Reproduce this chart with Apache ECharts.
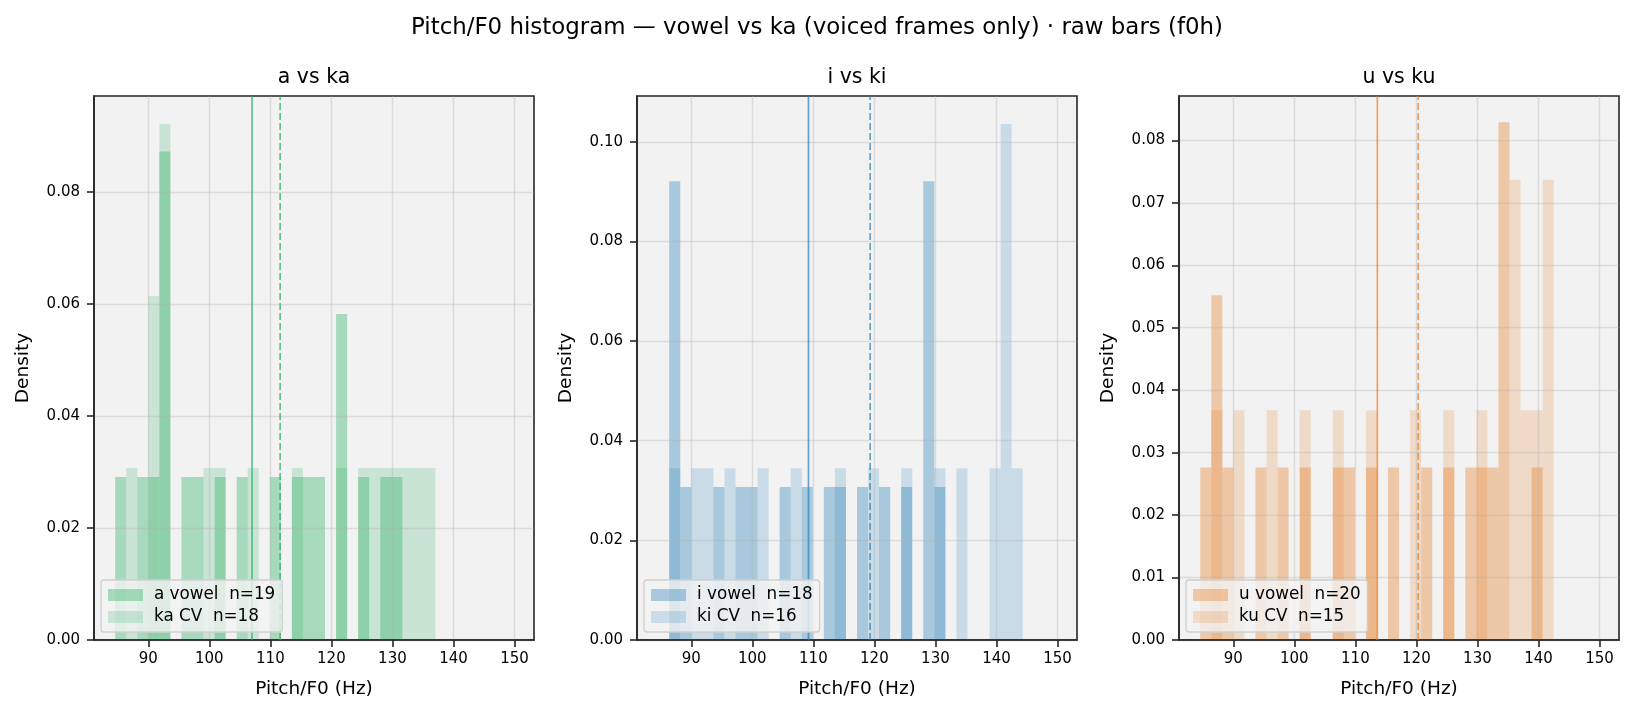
<!DOCTYPE html>
<html>
<head>
<meta charset="utf-8">
<script src="https://cdn.jsdelivr.net/npm/echarts@6/dist/echarts.min.js"></script>
<style>
html,body{margin:0;padding:0;background:#fff;}
#c{width:1634px;height:715px;}
</style>
</head>
<body>
<div id="c"></div>
<script>
// ---------- data ----------
const suptitle = 'Pitch/F0 histogram — vowel vs ka (voiced frames only) · raw bars (f0h)';
const panelTitles = ['a vs ka', 'i vs ki', 'u vs ku'];
const legendNames = [['a vowel  n=19', 'ka CV  n=18'], ['i vowel  n=18', 'ki CV  n=16'], ['u vowel  n=20', 'ku CV  n=15']];
const binWidth = 1.81;
const binStarts = [84.57, 86.38, 84.58];

// density per bin (bin k spans binStart + k*binWidth .. binStart + (k+1)*binWidth)
const aVowel = [0.0291,0,0.0291,0.0291,0.0872,0,0.0291,0.0291,0,0.0291,0,0.0291,0,0,0.0291,0,0.0291,0.0291,0.0291,0,0.0582,0,0.0291,0,0.0291,0.0291,0,0,0];
const kaCV   = [0,0.0307,0,0.0614,0.0921,0,0,0,0.0307,0.0307,0,0,0.0307,0,0,0,0.0307,0,0,0,0.0307,0,0.0307,0.0307,0.0307,0.0307,0.0307,0.0307,0.0307];
const iVowel = [0.0921,0.0307,0,0,0.0307,0,0.0307,0.0307,0,0,0.0307,0,0.0307,0,0.0307,0.0307,0,0.0307,0,0.0307,0,0.0307,0,0.0921,0.0307,0,0,0,0,0,0,0];
const kiCV   = [0.0345,0,0.0345,0.0345,0,0.0345,0,0,0.0345,0,0,0.0345,0,0,0,0.0345,0,0,0.0345,0,0,0.0345,0,0,0.0345,0,0.0345,0,0,0.0345,0.1036,0.0345];
const uVowel = [0.0276,0.0552,0.0276,0,0,0.0276,0,0.0276,0,0.0276,0,0,0.0276,0.0276,0,0.0276,0,0.0276,0,0,0.0276,0,0.0276,0,0.0276,0.0276,0.0276,0.0829,0,0,0.0276,0];
const kuCV   = [0,0.0368,0,0.0368,0,0,0.0368,0,0,0.0368,0,0,0.0368,0,0,0.0368,0,0,0,0.0368,0,0,0.0368,0,0,0.0368,0,0,0.0737,0.0368,0.0368,0.0737];

// mean lines (vowel solid, CV dashed)
const vowelMeans = [107.0, 109.2, 113.6];
const cvMeans = [111.6, 119.3, 120.3];

// axes
const xRange = [81.1, 153.2];
const xTicks = [90, 100, 110, 120, 130, 140, 150];
const yMax = [0.0971, 0.1092, 0.0871];
const yTicks = [
  [0, 0.02, 0.04, 0.06, 0.08],
  [0, 0.02, 0.04, 0.06, 0.08, 0.10],
  [0, 0.01, 0.02, 0.03, 0.04, 0.05, 0.06, 0.07, 0.08]
];

// ---------- styling ----------
const FONT = 'DejaVu Sans';
const baseRGB = ['39,174,96', '41,128,185', '230,126,34'];
const vowelAlpha = 0.37, cvAlpha = 0.2, lineAlpha = 0.7;
const gridLefts = [94, 637, 1179];
const gridTop = 96, gridW = 440, gridH = 544;

const vowelData = [aVowel, iVowel, uVowel];
const cvData = [kaCV, kiCV, kuCV];

function histSeries(name, idx, dens, color) {
  const start = binStarts[idx];
  const data = dens.map((d, k) => [start + k * binWidth, start + (k + 1) * binWidth, d]).filter(r => r[2] > 0);
  return {
    name: name, type: 'custom', xAxisIndex: idx, yAxisIndex: idx, z: 1,
    itemStyle: { color: color },
    encode: { x: [0, 1], y: 2 },
    data: data, silent: true, animation: false,
    renderItem: function (params, api) {
      const a = api.coord([api.value(0), 0]);
      const b = api.coord([api.value(1), api.value(2)]);
      return { type: 'rect', shape: { x: a[0], y: b[1], width: b[0] - a[0], height: a[1] - b[1] }, style: { fill: color } };
    }
  };
}
function meanLine(idx, m, color, dashed) {
  return {
    type: 'line', xAxisIndex: idx, yAxisIndex: idx, z: 3, silent: true, animation: false,
    data: [[m, 0], [m, yMax[idx]]], symbol: 'none',
    lineStyle: { color: color, width: 1.7, type: dashed ? [7, 3] : 'solid' }
  };
}

const grids = [], xAxes = [], yAxes = [], series = [], legends = [], titles = [];
titles.push({ text: suptitle, left: 'center', top: 17, padding: 0,
  textStyle: { fontFamily: FONT, fontSize: 22.9, fontWeight: 'normal', color: '#000' } });

for (let i = 0; i < 3; i++) {
  grids.push({ left: gridLefts[i], top: gridTop, width: gridW, height: gridH, show: true,
    backgroundColor: '#f2f2f2', borderColor: '#262626', borderWidth: 1.6 });
  xAxes.push({ type: 'value', gridIndex: i, min: xRange[0], max: xRange[1], z: 2,
    name: 'Pitch/F0 (Hz)', nameLocation: 'middle', nameGap: 40,
    nameTextStyle: { fontFamily: FONT, fontSize: 18.5, color: '#000' },
    axisLine: { show: true, lineStyle: { color: '#262626', width: 1.6 } },
    axisTick: { show: true, length: 7, customValues: xTicks, lineStyle: { color: '#262626', width: 1.6 } },
    axisLabel: { customValues: xTicks, margin: 12, fontFamily: FONT, fontSize: 15, color: '#000' },
    splitLine: { show: true, lineStyle: { color: 'rgba(176,176,176,0.34)', width: 1.4 } } });
  yAxes.push({ type: 'value', gridIndex: i, min: 0, max: yMax[i], z: 2,
    name: 'Density', nameLocation: 'middle', nameGap: 61,
    nameTextStyle: { fontFamily: FONT, fontSize: 18.5, color: '#000' },
    axisLine: { show: true, lineStyle: { color: '#262626', width: 1.6 } },
    axisTick: { show: true, length: 7, customValues: yTicks[i], lineStyle: { color: '#262626', width: 1.6 } },
    axisLabel: { customValues: yTicks[i], margin: 14, fontFamily: FONT, fontSize: 15, color: '#000',
      formatter: v => v.toFixed(2) },
    splitLine: { show: true, lineStyle: { color: 'rgba(176,176,176,0.34)', width: 1.4 } } });

  const vCol = 'rgba(' + baseRGB[i] + ',' + vowelAlpha + ')';
  const cCol = 'rgba(' + baseRGB[i] + ',' + cvAlpha + ')';
  const lCol = 'rgba(' + baseRGB[i] + ',' + lineAlpha + ')';
  series.push(histSeries(legendNames[i][0], i, vowelData[i], vCol));
  series.push(histSeries(legendNames[i][1], i, cvData[i], cCol));
  series.push(meanLine(i, vowelMeans[i], lCol, false));
  series.push(meanLine(i, cvMeans[i], lCol, true));

  titles.push({ text: panelTitles[i], left: gridLefts[i] + gridW / 2, textAlign: 'center', top: 67, padding: 0,
    textStyle: { fontFamily: FONT, fontSize: 20.5, fontWeight: 'normal', color: '#000' } });

  legends.push({ data: legendNames[i], orient: 'vertical', left: gridLefts[i] + 7, top: 580,
    padding: [6, 7, 6, 7], itemWidth: 35, itemHeight: 12, itemGap: 4, icon: 'rect',
    selectedMode: false, z: 5,
    backgroundColor: 'rgba(242,242,242,0.8)', borderColor: '#cfcfcf', borderWidth: 1.3, borderRadius: 3,
    textStyle: { fontFamily: FONT, fontSize: 16.8, color: '#000', lineHeight: 18, padding: [0, 0, 0, 6] } });
}

const chart = echarts.init(document.getElementById('c'), null, { renderer: 'canvas' });
chart.setOption({
  animation: false,
  backgroundColor: '#ffffff',
  title: titles,
  grid: grids,
  xAxis: xAxes,
  yAxis: yAxes,
  legend: legends,
  series: series
});
</script>
</body>
</html>
